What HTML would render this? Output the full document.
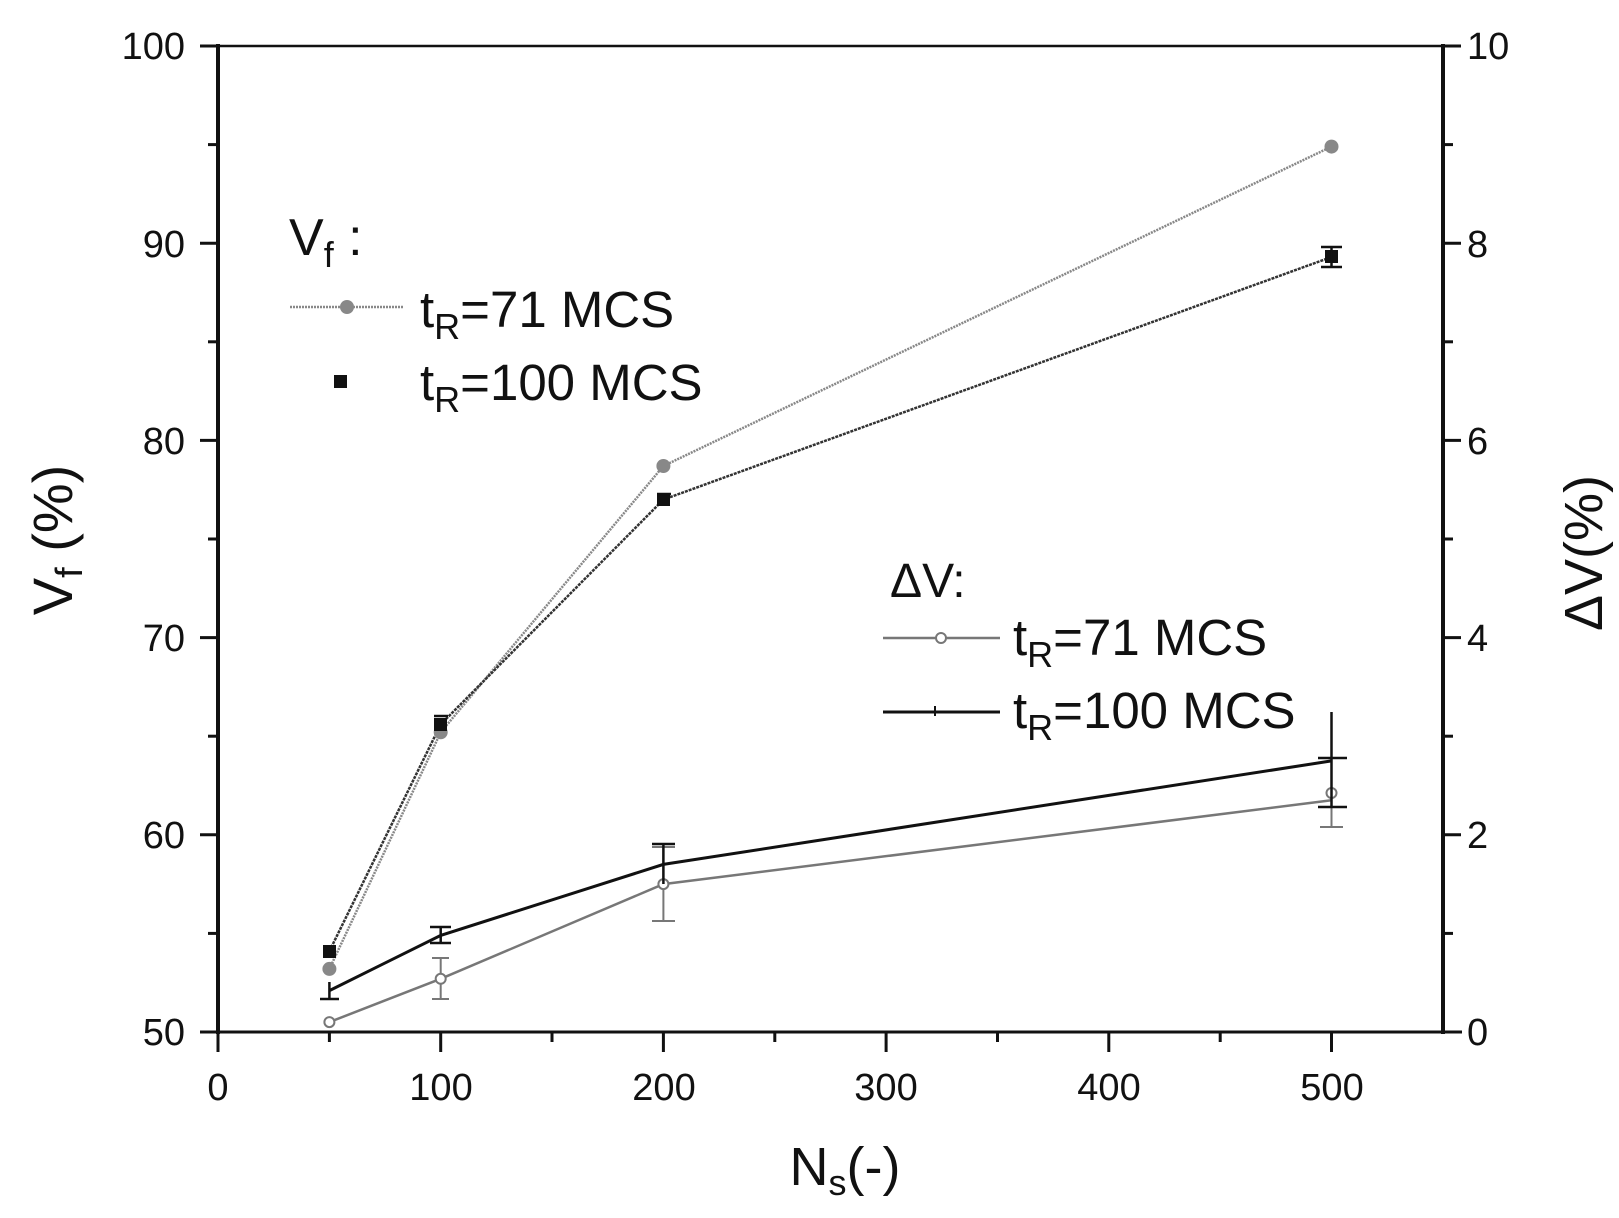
<!DOCTYPE html>
<html><head><meta charset="utf-8"><style>
html,body{margin:0;padding:0;background:#fff}
svg{display:block}
text{font-family:"Liberation Sans",Arial,sans-serif;fill:#111}
</style></head><body>
<svg width="1619" height="1218" viewBox="0 0 1619 1218" xmlns="http://www.w3.org/2000/svg">
<rect width="1619" height="1218" fill="#fff"/>
<g stroke="#111" stroke-width="4" fill="none">
<line x1="218" y1="46" x2="1443" y2="46" stroke-width="2.5"/>
<line x1="218" y1="44" x2="218" y2="1034"/>
<line x1="1443" y1="44" x2="1443" y2="1034"/>
<line x1="216" y1="1032" x2="1462" y2="1032" stroke-width="3"/>
</g>
<g stroke="#111" stroke-width="3">
<line x1="218" y1="1032" x2="218" y2="1052"/><line x1="329.4" y1="1032" x2="329.4" y2="1042"/>
<line x1="440.7" y1="1032" x2="440.7" y2="1052"/><line x1="552" y1="1032" x2="552" y2="1042"/>
<line x1="663.4" y1="1032" x2="663.4" y2="1052"/><line x1="774.8" y1="1032" x2="774.8" y2="1042"/>
<line x1="886.1" y1="1032" x2="886.1" y2="1052"/><line x1="997.5" y1="1032" x2="997.5" y2="1042"/>
<line x1="1108.8" y1="1032" x2="1108.8" y2="1052"/><line x1="1220.2" y1="1032" x2="1220.2" y2="1042"/>
<line x1="1331.5" y1="1032" x2="1331.5" y2="1052"/>
<line x1="200" y1="46" x2="218" y2="46"/><line x1="208" y1="144.6" x2="218" y2="144.6"/>
<line x1="200" y1="243.2" x2="218" y2="243.2"/><line x1="208" y1="341.8" x2="218" y2="341.8"/>
<line x1="200" y1="440.4" x2="218" y2="440.4"/><line x1="208" y1="539" x2="218" y2="539"/>
<line x1="200" y1="637.6" x2="218" y2="637.6"/><line x1="208" y1="736.2" x2="218" y2="736.2"/>
<line x1="200" y1="834.8" x2="218" y2="834.8"/><line x1="208" y1="933.4" x2="218" y2="933.4"/>
<line x1="200" y1="1032" x2="218" y2="1032"/>
<line x1="1443" y1="46" x2="1461" y2="46"/><line x1="1443" y1="144.6" x2="1453" y2="144.6"/>
<line x1="1443" y1="243.2" x2="1461" y2="243.2"/><line x1="1443" y1="341.8" x2="1453" y2="341.8"/>
<line x1="1443" y1="440.4" x2="1461" y2="440.4"/><line x1="1443" y1="539" x2="1453" y2="539"/>
<line x1="1443" y1="637.6" x2="1461" y2="637.6"/><line x1="1443" y1="736.2" x2="1453" y2="736.2"/>
<line x1="1443" y1="834.8" x2="1461" y2="834.8"/><line x1="1443" y1="933.4" x2="1453" y2="933.4"/>
</g>
<g font-size="38" text-anchor="middle">
<text x="218" y="1100">0</text><text x="441" y="1100">100</text><text x="664" y="1100">200</text>
<text x="886" y="1100">300</text><text x="1109" y="1100">400</text><text x="1332" y="1100">500</text>
</g>
<g font-size="38" text-anchor="end">
<text x="185" y="59">100</text><text x="185" y="257">90</text><text x="185" y="454">80</text>
<text x="185" y="651">70</text><text x="185" y="848">60</text><text x="185" y="1045">50</text>
</g>
<g font-size="38" text-anchor="start">
<text x="1467" y="59">10</text><text x="1467" y="257">8</text><text x="1467" y="454">6</text>
<text x="1467" y="651">4</text><text x="1467" y="848">2</text><text x="1467" y="1045">0</text>
</g>
<text x="845" y="1185" font-size="54" text-anchor="middle">N<tspan font-size="36" dy="10">s</tspan><tspan dy="-10">(-)</tspan></text>
<text transform="translate(72,540) rotate(-90)" font-size="56" text-anchor="middle">V<tspan font-size="38" dy="10">f</tspan><tspan dy="-10"> (%)</tspan></text>
<text transform="translate(1602,553) rotate(-90)" font-size="54" text-anchor="middle">ΔV(%)</text>
<polyline points="329.4,968.9 440.7,732.3 663.4,466 1331.5,146.6" fill="none" stroke="#888" stroke-width="2.5" stroke-dasharray="2,1"/>
<polyline points="329.4,951.2 440.7,724.4 663.4,499.6 1331.5,257" fill="none" stroke="#333" stroke-width="2.5" stroke-dasharray="3,1"/>
<g fill="#888"><circle cx="329.4" cy="968.9" r="7"/><circle cx="440.7" cy="732.3" r="7"/><circle cx="663.4" cy="466" r="7"/><circle cx="1331.5" cy="146.6" r="7"/></g>
<g fill="#111"><rect x="323" y="945" width="13" height="13"/><rect x="434" y="718" width="13" height="13"/><rect x="657" y="493" width="13" height="13"/><rect x="1325" y="250" width="13" height="13"/></g>
<g stroke="#111" stroke-width="2.5"><line x1="1331.5" y1="247" x2="1331.5" y2="267"/><line x1="1321" y1="247" x2="1342" y2="247"/><line x1="1321" y1="267" x2="1342" y2="267"/>
<line x1="434" y1="716" x2="448" y2="716"/><line x1="657" y1="494" x2="671" y2="494"/></g>
<polyline points="329.4,1022.1 440.7,978.8 663.4,884.1 1331.5,800.3" fill="none" stroke="#777" stroke-width="2.5"/>
<polyline points="329.4,990.6 440.7,935.4 663.4,864.4 1331.5,760.9" fill="none" stroke="#111" stroke-width="3"/>
<g stroke="#777" stroke-width="2" fill="none">
<line x1="440.7" y1="958" x2="440.7" y2="999"/><line x1="432" y1="958" x2="449" y2="958"/><line x1="432" y1="999" x2="449" y2="999"/>
<line x1="663.4" y1="847" x2="663.4" y2="921"/><line x1="652" y1="847" x2="675" y2="847"/><line x1="652" y1="921" x2="675" y2="921"/>
<line x1="1331.5" y1="775" x2="1331.5" y2="827"/><line x1="1320" y1="827" x2="1343" y2="827"/>
<circle cx="329.4" cy="1022.1" r="5" fill="#fff"/><circle cx="440.7" cy="978.8" r="5" fill="#fff"/><circle cx="663.4" cy="884.1" r="5" fill="#fff"/><circle cx="1331.5" cy="793" r="5" fill="#fff"/>
</g>
<g stroke="#111" stroke-width="2.5">
<line x1="329.4" y1="982" x2="329.4" y2="999"/><line x1="320" y1="999" x2="339" y2="999"/>
<line x1="440.7" y1="927" x2="440.7" y2="943"/><line x1="430" y1="927" x2="451" y2="927"/><line x1="430" y1="943" x2="451" y2="943"/>
<line x1="663.4" y1="844" x2="663.4" y2="884"/><line x1="652" y1="844" x2="675" y2="844"/>
<line x1="1331.5" y1="712" x2="1331.5" y2="807"/><line x1="1318" y1="807" x2="1347" y2="807"/><line x1="1318" y1="758" x2="1347" y2="758"/>
</g>
<text x="289" y="255" font-size="52">V<tspan font-size="36" dy="12">f</tspan><tspan dy="-12"> :</tspan></text>
<line x1="290" y1="307" x2="403" y2="307" stroke="#888" stroke-width="2.5" stroke-dasharray="2,1"/>
<circle cx="347" cy="307" r="7" fill="#888"/>
<text x="420" y="327" font-size="51">t<tspan font-size="36" dy="12">R</tspan><tspan dy="-12">=71  MCS</tspan></text>
<rect x="334" y="375" width="13" height="13" fill="#111"/>
<text x="420" y="400" font-size="51">t<tspan font-size="36" dy="12">R</tspan><tspan dy="-12">=100 MCS</tspan></text>
<text x="890" y="597" font-size="48">ΔV:</text>
<line x1="883" y1="638" x2="1000" y2="638" stroke="#777" stroke-width="2.5"/>
<circle cx="941" cy="638" r="5" fill="#fff" stroke="#777" stroke-width="2"/>
<text x="1013" y="655" font-size="51">t<tspan font-size="36" dy="12">R</tspan><tspan dy="-12">=71  MCS</tspan></text>
<line x1="883" y1="712" x2="1000" y2="712" stroke="#111" stroke-width="3"/>
<line x1="935" y1="706" x2="935" y2="716" stroke="#111" stroke-width="2"/>
<text x="1013" y="728" font-size="51">t<tspan font-size="36" dy="12">R</tspan><tspan dy="-12">=100 MCS</tspan></text>
</svg>
</body></html>
